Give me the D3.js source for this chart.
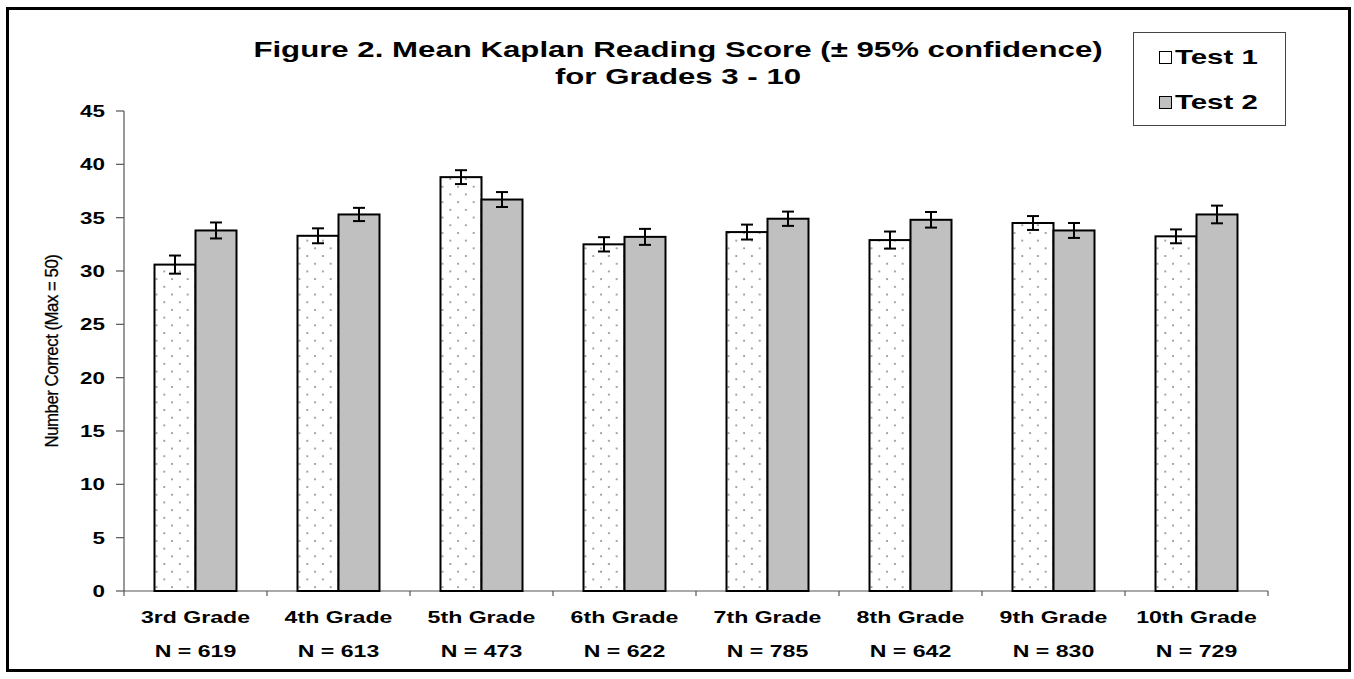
<!DOCTYPE html>
<html>
<head>
<meta charset="utf-8">
<script src="https://cdn.jsdelivr.net/npm/d3@7"></script>
<style>
  body { margin: 0; background: #fff; }
  svg { display: block; }
  text { font-family: Arial, "Liberation Sans", sans-serif; fill: #000; }
</style>
</head>
<body>
<svg id="chart" width="1354" height="679"></svg>
<script>
// data
const grades = ['3rd Grade', '4th Grade', '5th Grade', '6th Grade', '7th Grade', '8th Grade', '9th Grade', '10th Grade'];
const sampleN = [619, 613, 473, 622, 785, 642, 830, 729];
const test1 = [30.6, 33.3, 38.8, 32.5, 33.65, 32.9, 34.5, 33.25];
const test2 = [33.8, 35.3, 36.7, 33.2, 34.9, 34.8, 33.8, 35.3];
const ci1 = [0.85, 0.7, 0.65, 0.67, 0.7, 0.8, 0.65, 0.65];
const ci2 = [0.75, 0.62, 0.7, 0.75, 0.67, 0.73, 0.7, 0.83];
const yTicks = [0, 5, 10, 15, 20, 25, 30, 35, 40, 45];
const seriesNames = ['Test 1', 'Test 2'];

const svg = d3.select('#chart');
const sx = 1.4; // the original text is stretched sideways

// dotted fill for Test 1
const defs = svg.append('defs');
const pat = defs.append('pattern')
  .attr('id', 'dots')
  .attr('patternUnits', 'userSpaceOnUse')
  .attr('width', 15.6).attr('height', 15.4);
pat.append('rect').attr('width', 15.6).attr('height', 15.4).attr('fill', '#fff');
pat.append('circle').attr('cx', 2).attr('cy', 2).attr('r', 1).attr('fill', '#888');
pat.append('circle').attr('cx', 9.8).attr('cy', 9.7).attr('r', 1).attr('fill', '#888');

// outer frame
svg.append('rect')
  .attr('x', 7.5).attr('y', 8.5).attr('width', 1342).attr('height', 662)
  .attr('fill', 'none').attr('stroke', '#000').attr('stroke-width', 3);

const y = d3.scaleLinear().domain([0, 45]).range([591, 111]);
const x = d3.scaleBand().domain(grades).range([124, 1268]).paddingInner(0.4266).paddingOuter(0.2133);
const xs = d3.scaleBand().domain(seriesNames).range([0, x.bandwidth()]);

function stretched(sel, px, py, size, weight, anchor) {
  return sel.append('text')
    .attr('transform', `translate(${px},${py}) scale(${sx},1)`)
    .attr('font-size', size)
    .attr('font-weight', weight)
    .attr('text-anchor', anchor);
}

// title
stretched(svg, 678, 57, 22.3, 'bold', 'middle').text('Figure 2. Mean Kaplan Reading Score (\u00b1 95% confidence)');
stretched(svg, 678, 84, 22.3, 'bold', 'middle').text('for Grades 3 - 10');

// y axis
const yAxis = svg.append('g');
yAxis.append('line').attr('x1', 124).attr('x2', 124).attr('y1', y(45)).attr('y2', y(0))
  .attr('stroke', '#555').attr('stroke-width', 1.2);
yTicks.forEach(t => {
  yAxis.append('line').attr('x1', 116).attr('x2', 124).attr('y1', y(t)).attr('y2', y(t))
    .attr('stroke', '#555').attr('stroke-width', 1.2);
  stretched(yAxis, 105, y(t) + 6, 16, 'bold', 'end').text(t);
});

svg.append('text')
  .attr('transform', `translate(58,${(y(0) + y(45)) / 2}) rotate(-90) scale(1.2,1.35)`)
  .attr('font-size', 14)
  .attr('text-anchor', 'middle')
  .attr('letter-spacing', -0.4)
  .attr('stroke', '#000').attr('stroke-width', 0.2)
  .text('Number Correct (Max = 50)');

// x axis
const xAxis = svg.append('g');
xAxis.append('line').attr('x1', 124).attr('x2', 1268).attr('y1', y(0)).attr('y2', y(0))
  .attr('stroke', '#555').attr('stroke-width', 1.2);
d3.range(grades.length + 1).forEach(i => {
  const bx = 124 + i * x.step();
  xAxis.append('line').attr('x1', bx).attr('x2', bx).attr('y1', y(0)).attr('y2', y(0) + 5)
    .attr('stroke', '#555').attr('stroke-width', 1.2);
});
grades.forEach((g, i) => {
  const cx = x(g) + x.bandwidth() / 2;
  stretched(xAxis, cx, 623, 16.5, 'bold', 'middle').text(g);
  stretched(xAxis, cx, 657, 16.5, 'bold', 'middle').text('N = ' + sampleN[i]);
});

// bars
const rows = grades.map((g, i) => ({ g, vals: [test1[i], test2[i]], ci: [ci1[i], ci2[i]] }));
const fills = ['url(#dots)', '#c0c0c0'];

const groups = svg.append('g').selectAll('g').data(rows).join('g')
  .attr('transform', d => `translate(${x(d.g)},0)`);

seriesNames.forEach((s, k) => {
  groups.append('rect')
    .attr('x', xs(s))
    .attr('y', d => y(d.vals[k]))
    .attr('width', xs.bandwidth())
    .attr('height', d => y(0) - y(d.vals[k]))
    .attr('fill', fills[k])
    .attr('stroke', '#000')
    .attr('stroke-width', 2);
});

// error bars
seriesNames.forEach((s, k) => {
  const cx = xs(s) + xs.bandwidth() / 2;
  const eb = groups.append('g').attr('stroke', '#000').attr('stroke-width', 2);
  eb.append('line').attr('x1', cx).attr('x2', cx)
    .attr('y1', d => y(d.vals[k] + d.ci[k])).attr('y2', d => y(d.vals[k] - d.ci[k]));
  eb.append('line').attr('x1', cx - 6).attr('x2', cx + 6)
    .attr('y1', d => y(d.vals[k] + d.ci[k])).attr('y2', d => y(d.vals[k] + d.ci[k]));
  eb.append('line').attr('x1', cx - 6).attr('x2', cx + 6)
    .attr('y1', d => y(d.vals[k] - d.ci[k])).attr('y2', d => y(d.vals[k] - d.ci[k]));
});

// legend
const legend = svg.append('g');
legend.append('rect').attr('x', 1133.5).attr('y', 32.5).attr('width', 152).attr('height', 93)
  .attr('fill', '#fff').attr('stroke', '#444').attr('stroke-width', 1);
const legendFills = ['#fff', '#c0c0c0'];
seriesNames.forEach((s, k) => {
  const ly = 51 + k * 45;
  legend.append('rect').attr('x', 1159.5).attr('y', ly + 0.5).attr('width', 12).attr('height', 12)
    .attr('fill', legendFills[k]).attr('stroke', '#000').attr('stroke-width', 1);
  stretched(legend, 1175, ly + 13, 21, 'bold', 'start').text(s);
});
</script>
</body>
</html>
